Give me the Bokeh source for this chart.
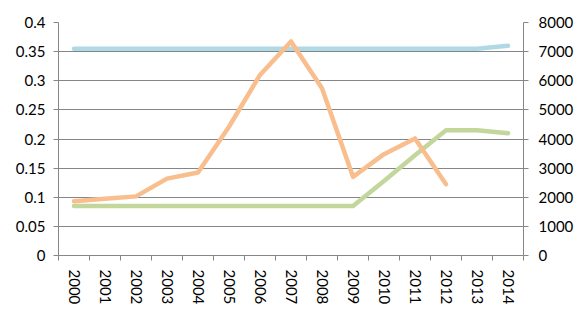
from bokeh.plotting import figure
from bokeh.layouts import column
from bokeh.models import (Range1d, LinearAxis, FixedTicker, NumeralTickFormatter,
                          Legend, LegendItem)
from bokeh.embed import file_html
from bokeh.resources import INLINE

# Data
years = list(range(2000, 2015))
rate = [0.085, 0.085, 0.085, 0.085, 0.085, 0.085, 0.085, 0.085, 0.085, 0.085,
        0.128, 0.172, 0.215, 0.215, 0.21]
rate_decoration = [0.355] * 14 + [0.36]
extraction_years = list(range(2000, 2013))
extraction = [1860, 1950, 2030, 2640, 2850, 4420, 6200, 7350, 5740, 2700,
              3480, 4020, 2450]

left_ticks = [0, 0.05, 0.1, 0.15, 0.2, 0.25, 0.3, 0.35, 0.4]
right_ticks = [0, 1000, 2000, 3000, 4000, 5000, 6000, 7000, 8000]
series_names = ["Rate", "Rate (for decoration)", "Extraction"]

GREEN = "#C3D69B"
BLUE = "#AFDAE5"
ORANGE = "#F9BE8D"
GRID = "#868686"
FONT = "Lato"
FSIZE = "15px"
LW = 4.5

p = figure(width=580, height=310, output_backend="svg", toolbar_location=None,
           x_range=Range1d(years[0] - 0.5, years[-1] + 0.5),
           y_range=Range1d(0, 0.4), x_axis_location=None, y_axis_location=None,
           min_border_left=58, min_border_right=57, min_border_top=22,
           min_border_bottom=55)
p.outline_line_color = None
p.extra_y_ranges = {"ext": Range1d(0, 8000)}

# Axes
def style_axis(ax):
    ax.axis_line_color = GRID
    ax.axis_line_width = 1
    ax.major_tick_line_color = GRID
    ax.minor_tick_line_color = GRID
    ax.major_label_text_font = FONT
    ax.major_label_text_font_size = FSIZE
    ax.major_label_text_color = "black"
    ax.axis_label_standoff = 0

xaxis = LinearAxis(ticker=FixedTicker(ticks=years,
                                      minor_ticks=[y - 0.5 for y in years] + [years[-1] + 0.5]),
                   formatter=NumeralTickFormatter(format="0"))
style_axis(xaxis)
xaxis.major_tick_out = 0
xaxis.major_tick_in = 0
xaxis.minor_tick_out = 5
xaxis.minor_tick_in = 0
xaxis.major_label_orientation = "vertical"
xaxis.major_label_standoff = 9
p.add_layout(xaxis, "below")

yleft = LinearAxis(ticker=FixedTicker(ticks=left_ticks),
                   formatter=NumeralTickFormatter(format="0.[00]"))
style_axis(yleft)
yleft.major_tick_out = 5
yleft.major_tick_in = 0
yleft.minor_tick_line_color = None
yleft.major_label_standoff = 8
p.add_layout(yleft, "left")

yright = LinearAxis(y_range_name="ext", ticker=FixedTicker(ticks=right_ticks),
                    formatter=NumeralTickFormatter(format="0"))
style_axis(yright)
yright.major_tick_out = 5
yright.major_tick_in = 0
yright.minor_tick_line_color = None
yright.major_label_standoff = 10
p.add_layout(yright, "right")

p.xgrid.visible = False
p.ygrid.ticker = FixedTicker(ticks=left_ticks)
p.ygrid.grid_line_color = GRID
p.ygrid.grid_line_width = 1

# Series
colors = [GREEN, BLUE, ORANGE]
p.line(years, rate, line_color=GREEN, line_width=LW,
       line_join="round", line_cap="round")
p.line(years, rate_decoration, line_color=BLUE, line_width=LW,
       line_join="round", line_cap="round")
p.line(extraction_years, extraction, y_range_name="ext", line_color=ORANGE,
       line_width=LW, line_join="round", line_cap="round")

# Legend strip underneath the chart: the legend sits in a side panel that
# takes the whole strip, so the series drawn here only supply legend swatches.
leg = figure(width=580, height=30, output_backend="svg", toolbar_location=None,
             x_axis_location=None, y_axis_location=None,
             min_border_left=0, min_border_right=0, min_border_top=0,
             min_border_bottom=0)
leg.outline_line_color = None
leg.xgrid.visible = False
leg.ygrid.visible = False
leg.background_fill_alpha = 0
series_x = [years, years, extraction_years]
series_y = [rate, rate_decoration, extraction]
items = []
for name, c, xs, ys in zip(series_names, colors, series_x, series_y):
    r = leg.line(xs, ys, line_color=c, line_width=LW, line_cap="round")
    items.append(LegendItem(label=name, renderers=[r]))

legend = Legend(items=items, orientation="horizontal", location="center",
                glyph_width=56, glyph_height=14, label_height=14,
                label_standoff=4, spacing=33, padding=0, margin=0,
                border_line_color=None, background_fill_alpha=0,
                label_text_font=FONT, label_text_font_size="17px")
leg.add_layout(legend, "below")

layout = column(p, leg, spacing=0)
open("out.html", "w").write(file_html(layout, INLINE))
